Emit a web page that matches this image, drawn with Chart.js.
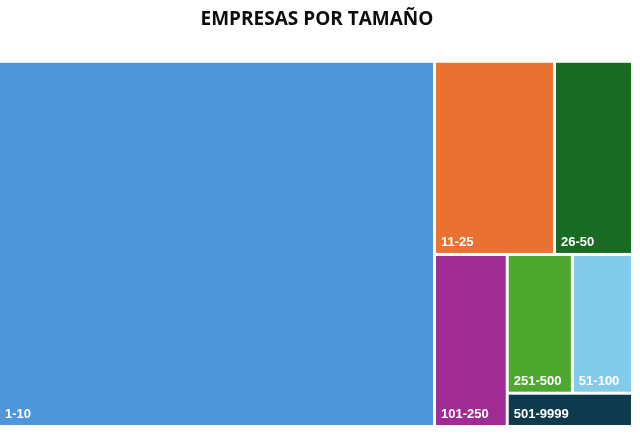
<!DOCTYPE html>
<html>
<head>
<meta charset="utf-8">
<script src="https://cdn.jsdelivr.net/npm/chart.js@4.4.1/dist/chart.umd.min.js"></script>
<style>
  html, body { margin: 0; padding: 0; background: #ffffff; }
  #wrap { width: 640px; height: 439px; }
</style>
</head>
<body>
<div id="wrap"><canvas id="treemap" width="640" height="439"></canvas></div>
<script>
// categories and their share (read from the rectangle areas)
const sizes = ['1-10', '11-25', '26-50', '51-100', '101-250', '251-500', '501-9999'];
const shares = [68.7, 10.0, 6.5, 3.6, 5.4, 3.9, 1.8];
const colors = ['#4e95d9', '#e97132', '#196b24', '#83cbeb', '#a02b93', '#4ea72e', '#0e3a4e'];
// how many cells each squarified row holds (as in the picture)
const rowSizes = [1, 2, 1, 2, 1];

const GAP = 3;

// squarified layout in data units (0..100 on both scales), orientation by pixel aspect
function layoutCells(chart) {
    const xs = chart.scales.x, ys = chart.scales.y;
    const sx = Math.abs(xs.getPixelForValue(100) - xs.getPixelForValue(0)) / 100;
    const sy = Math.abs(ys.getPixelForValue(100) - ys.getPixelForValue(0)) / 100;

    const items = sizes.map((s, i) => ({ label: s, value: shares[i], color: colors[i] }))
        .sort((a, b) => b.value - a.value);

    let region = { x: 0, y: 0, w: 100, h: 100 };
    let rest = items.reduce((a, b) => a + b.value, 0);
    let k = 0;
    const cells = [];
    rowSizes.forEach(n => {
        const row = items.slice(k, k + n);
        k += n;
        const rowSum = row.reduce((a, b) => a + b.value, 0);
        const wide = region.w * sx >= region.h * sy;
        if (wide) {
            const cw = region.w * rowSum / rest;
            let y = region.y;
            row.forEach(it => {
                const ch = region.h * it.value / rowSum;
                cells.push(Object.assign({ x0: region.x, y0: y, x1: region.x + cw, y1: y + ch }, it));
                y += ch;
            });
            region = { x: region.x + cw, y: region.y, w: region.w - cw, h: region.h };
        } else {
            const chh = region.h * rowSum / rest;
            let x = region.x;
            row.forEach(it => {
                const cw = region.w * it.value / rowSum;
                cells.push(Object.assign({ x0: x, y0: region.y, x1: x + cw, y1: region.y + chh }, it));
                x += cw;
            });
            region = { x: region.x, y: region.y + chh, w: region.w, h: region.h - chh };
        }
        rest -= rowSum;
    });
    return cells;
}

const treemapPlugin = {
    id: 'treemapCells',
    afterDatasetsDraw(chart) {
        const ctx = chart.ctx;
        const xs = chart.scales.x, ys = chart.scales.y;
        const cells = layoutCells(chart);
        ctx.save();
        cells.forEach(c => {
            const left = xs.getPixelForValue(c.x0);
            const right = xs.getPixelForValue(c.x1) - GAP;
            const top = ys.getPixelForValue(c.y0);
            const bottom = ys.getPixelForValue(c.y1) - GAP;
            ctx.fillStyle = c.color;
            ctx.fillRect(left, top, right - left, bottom - top);

            ctx.fillStyle = '#ffffff';
            ctx.font = 'bold 13px "Liberation Sans", Arial, sans-serif';
            ctx.textAlign = 'left';
            ctx.textBaseline = 'alphabetic';
            ctx.fillText(c.label, left + 5, bottom - 7);
        });
        ctx.restore();
    }
};

new Chart(document.getElementById('treemap'), {
    type: 'scatter',
    data: {
        datasets: [{ label: 'Empresas', data: [], pointRadius: 0 }]
    },
    options: {
        responsive: false,
        animation: false,
        layout: { padding: { left: 0, right: 6, top: 0, bottom: 11 } },
        scales: {
            x: { type: 'linear', min: 0, max: 100, display: false },
            y: { type: 'linear', min: 0, max: 100, reverse: true, display: false }
        },
        plugins: {
            legend: { display: false },
            tooltip: { enabled: false },
            title: {
                display: true,
                text: 'EMPRESAS POR TAMAÑO',
                color: '#0d0d0d',
                font: { family: '"Open Sans", sans-serif', size: 19, weight: 'bold', lineHeight: 1.2 },
                padding: { top: 8, bottom: 32 }
            }
        }
    },
    plugins: [treemapPlugin]
});
</script>
</body>
</html>
